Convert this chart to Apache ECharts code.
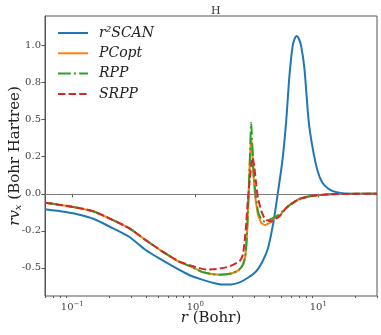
<!DOCTYPE html>
<html>
<head>
<meta charset="utf-8">
<script src="https://cdn.jsdelivr.net/npm/echarts@6/dist/echarts.min.js"></script>
<style>
html,body{margin:0;padding:0;background:#fff;}
#c{width:381px;height:335px;}
</style>
</head>
<body>
<div id="c"></div>
<script>
// ---- data ----
const titleText = 'H';
const seriesNames = ['r²SCAN', 'PCopt', 'RPP', 'SRPP'];

const rScan = [0.06, 0.08, 0.11, 0.15, 0.21, 0.29, 0.39, 0.53, 0.73, 0.90, 1.12, 1.35, 1.63, 1.95, 2.29, 2.70, 3.13, 3.50, 3.89, 4.30, 4.68, 5.14, 5.48, 5.83, 6.19, 6.45, 6.67, 6.92, 7.24, 7.70, 8.35, 8.99, 9.87, 10.8, 12.0, 13.1, 15.7, 20.0, 30.0];
const vScan = [-0.105, -0.118, -0.138, -0.17, -0.23, -0.29, -0.376, -0.445, -0.511, -0.55, -0.578, -0.598, -0.612, -0.612, -0.598, -0.565, -0.523, -0.46, -0.37, -0.20, 0.0, 0.244, 0.49, 0.80, 1.00, 1.05, 1.065, 1.05, 1.00, 0.85, 0.49, 0.31, 0.154, 0.074, 0.035, 0.018, 0.003, 0.0, 0.0];

const rPC = [0.06, 0.08, 0.11, 0.15, 0.21, 0.29, 0.39, 0.53, 0.73, 0.90, 1.12, 1.23, 1.40, 1.58, 1.80, 2.02, 2.25, 2.44, 2.55, 2.62, 2.70, 2.77, 2.83, 2.86, 2.90, 2.95, 2.99, 3.03, 3.09, 3.16, 3.23, 3.33, 3.44, 3.65, 3.77, 3.95, 4.14, 4.27, 4.55, 4.83, 5.48, 6.0, 7.0, 9.0, 12.3, 16.0, 30.0];
const vPC = [-0.061, -0.075, -0.094, -0.12, -0.174, -0.232, -0.309, -0.385, -0.456, -0.488, -0.525, -0.535, -0.543, -0.546, -0.543, -0.535, -0.515, -0.478, -0.42, -0.30, -0.05, 0.20, 0.35, 0.37, 0.30, 0.18, 0.10, 0.03, -0.04, -0.09, -0.14, -0.17, -0.196, -0.21, -0.208, -0.20, -0.19, -0.175, -0.16, -0.15, -0.095, -0.07, -0.035, -0.014, -0.003, -0.001, 0.0];

const rRPP = [0.06, 0.08, 0.11, 0.15, 0.21, 0.29, 0.39, 0.53, 0.73, 0.90, 1.12, 1.23, 1.40, 1.58, 1.80, 2.02, 2.25, 2.44, 2.55, 2.62, 2.70, 2.77, 2.82, 2.85, 2.88, 2.94, 2.99, 3.09, 3.23, 3.40, 3.54, 3.77, 4.01, 4.68, 5.48, 6.0, 7.0, 9.0, 12.3, 16.0, 30.0];
const vRPP = [-0.061, -0.075, -0.094, -0.12, -0.174, -0.232, -0.309, -0.385, -0.456, -0.488, -0.525, -0.535, -0.543, -0.546, -0.543, -0.535, -0.515, -0.478, -0.42, -0.30, -0.05, 0.20, 0.42, 0.48, 0.40, 0.25, 0.11, 0.0, -0.117, -0.165, -0.185, -0.187, -0.175, -0.145, -0.097, -0.07, -0.035, -0.014, -0.003, -0.001, 0.0];

const rSRPP = [0.06, 0.08, 0.11, 0.15, 0.21, 0.29, 0.39, 0.53, 0.73, 0.90, 1.12, 1.23, 1.40, 1.58, 1.80, 2.02, 2.29, 2.44, 2.52, 2.60, 2.68, 2.80, 2.87, 2.92, 2.97, 3.03, 3.13, 3.23, 3.44, 3.65, 3.80, 4.14, 4.83, 5.48, 6.0, 7.0, 9.0, 12.3, 16.0, 30.0];
const vSRPP = [-0.061, -0.075, -0.094, -0.12, -0.174, -0.232, -0.309, -0.385, -0.456, -0.482, -0.505, -0.512, -0.51, -0.505, -0.495, -0.48, -0.456, -0.41, -0.32, -0.19, -0.03, 0.13, 0.21, 0.245, 0.22, 0.17, 0.06, -0.027, -0.117, -0.165, -0.178, -0.185, -0.151, -0.095, -0.07, -0.035, -0.014, -0.003, -0.001, 0.0];

const xTickValues = [0.1, 1, 10];
const xTickExps = ['−1', '0', '1'];
const xMinorTicks = [0.06, 0.07, 0.08, 0.09, 0.2, 0.3, 0.4, 0.5, 0.6, 0.7, 0.8, 0.9, 2, 3, 4, 5, 6, 7, 8, 9, 20, 30];
const yTickValues = [-0.5, -0.25, 0, 0.25, 0.5, 0.75, 1.0];
const yTickLabels = ['-0.5', '-0.2', '0.0', '0.2', '0.5', '0.8', '1.0'];

// ---- chart ----
const zip = (r, v) => r.map((x, i) => [x, v[i]]);
const SERIF = 'DejaVu Serif';
const AX = '#555';
const LBL = '#444';

function findIdx(arr, v) {
  for (let i = 0; i < arr.length; i++) {
    if (Math.abs(v - arr[i]) <= 1e-6 * Math.max(1, Math.abs(arr[i]))) return i;
  }
  return -1;
}

const chart = echarts.init(document.getElementById('c'), null, {renderer: 'canvas'});
const option = {
  animation: false,
  backgroundColor: '#fff',
  title: {
    text: titleText, left: 206, top: 1,
    textStyle: {fontFamily: SERIF, fontSize: 11, fontWeight: 'normal', color: '#333'}
  },
  grid: {left: 45, right: 4, top: 16, bottom: 39, outerBoundsMode: 'none', containLabel: false,
         show: true, borderColor: AX, borderWidth: 1, backgroundColor: 'transparent'},
  legend: {
    orient: 'vertical', left: 57, top: 26, padding: 0,
    itemWidth: 30, itemHeight: 14, itemGap: 6.3,
    data: seriesNames,
    itemStyle: {opacity: 0},
    textStyle: {fontFamily: SERIF, fontStyle: 'italic', fontSize: 14, color: '#222', padding: [0, 0, 0, 6]}
  },
  xAxis: [{
    type: 'log', logBase: 10, min: 0.06, max: 30,
    name: '{i|r}{n| (Bohr)}', nameLocation: 'middle', nameGap: 15, nameMoveOverlap: false,
    nameTextStyle: {color: '#222', rich: {
      i: {fontFamily: SERIF, fontStyle: 'italic', fontSize: 15, color: '#222'},
      n: {fontFamily: SERIF, fontSize: 15, color: '#222'}
    }},
    axisLine: {show: true, lineStyle: {color: AX, width: 1}},
    axisTick: {show: true, length: 3.5, lineStyle: {color: AX}, customValues: xTickValues},
    axisLabel: {
      customValues: xTickValues, margin: 5,
      formatter: (v) => { const i = findIdx(xTickValues, v); return i < 0 ? '' : '{b|10}{e|' + xTickExps[i] + '}'; },
      rich: {
        b: {fontFamily: SERIF, fontSize: 10, color: LBL},
        e: {fontFamily: SERIF, fontSize: 7, color: LBL, verticalAlign: 'top', padding: [0, 0, 5, 0]}
      }
    },
    splitLine: {show: false}
  }, {
    type: 'log', logBase: 10, min: 0.06, max: 30, position: 'bottom', gridIndex: 0,
    axisLine: {show: false},
    axisTick: {show: true, length: 2, lineStyle: {color: AX}, customValues: xMinorTicks},
    axisLabel: {show: false},
    splitLine: {show: false}
  }],
  yAxis: {
    type: 'value', min: -0.69, max: 1.2,
    name: '{i|rv}{s|x}{n| (Bohr Hartree)}', nameLocation: 'middle', nameRotate: 90, nameGap: 22, nameMoveOverlap: false,
    nameTextStyle: {color: '#222', rich: {
      i: {fontFamily: SERIF, fontStyle: 'italic', fontSize: 15, color: '#222'},
      s: {fontFamily: SERIF, fontStyle: 'italic', fontSize: 10, color: '#222', verticalAlign: 'bottom'},
      n: {fontFamily: SERIF, fontSize: 15, color: '#222'}
    }},
    axisLine: {show: true, lineStyle: {color: AX, width: 1}},
    axisTick: {show: true, length: 3.5, lineStyle: {color: AX}, customValues: yTickValues},
    axisLabel: {
      customValues: yTickValues, margin: 4,
      fontFamily: SERIF, fontSize: 10, color: LBL,
      formatter: (v) => { const i = findIdx(yTickValues, v); return i < 0 ? '' : yTickLabels[i]; }
    },
    splitLine: {show: false}
  },
  series: [
    {name: seriesNames[0], type: 'line', data: zip(rScan, vScan), showSymbol: false, symbol: 'none', smooth: 0.25,
     lineStyle: {color: '#1f77b4', width: 2}, itemStyle: {color: '#1f77b4'},
     markLine: {silent: true, symbol: 'none', label: {show: false}, lineStyle: {color: '#7a7a7a', width: 1.1, type: 'solid'}, data: [{yAxis: 0}]},
     z: 2},
    {name: seriesNames[1], type: 'line', data: zip(rPC, vPC), showSymbol: false, symbol: 'none', smooth: 0.15,
     lineStyle: {color: '#ff7f0e', width: 2}, itemStyle: {color: '#ff7f0e'}, z: 3},
    {name: seriesNames[2], type: 'line', data: zip(rRPP, vRPP), showSymbol: false, symbol: 'none', smooth: 0.15,
     lineStyle: {color: '#2ca02c', width: 2, type: [12.8, 3.2, 2, 3.2]}, itemStyle: {color: '#2ca02c'}, z: 4},
    {name: seriesNames[3], type: 'line', data: zip(rSRPP, vSRPP), showSymbol: false, symbol: 'none', smooth: 0.15,
     lineStyle: {color: '#d62728', width: 2, type: [7.4, 3.2]}, itemStyle: {color: '#d62728'}, z: 5}
  ]
};
chart.setOption(option);
</script>
</body>
</html>
